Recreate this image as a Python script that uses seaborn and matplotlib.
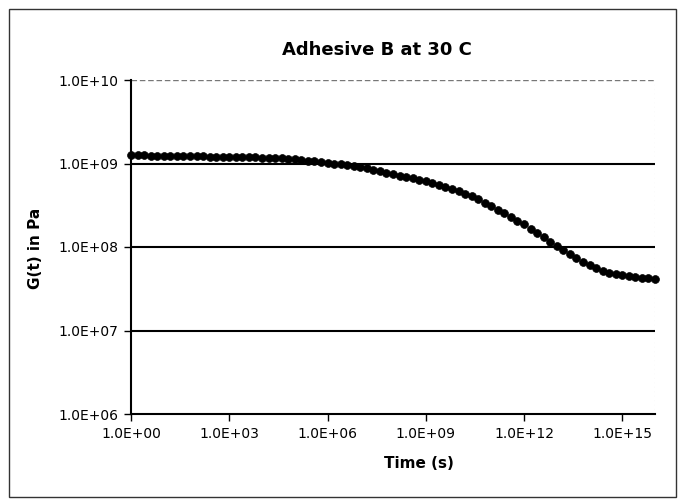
import numpy as np
import pandas as pd
import matplotlib
matplotlib.use("Agg")
import matplotlib.pyplot as plt
import matplotlib.ticker as mticker
import seaborn as sns

title = "Adhesive B at 30 C"
x_label = "Time (s)"
y_label = "G(t) in Pa"

# log10 of time (s) for each plotted point
time_exp = [0.0, 0.2, 0.4, 0.6, 0.8, 1.0, 1.2, 1.4, 1.6, 1.8,
            2.0, 2.2, 2.4, 2.6, 2.8, 3.0, 3.2, 3.4, 3.6, 3.8,
            4.0, 4.2, 4.4, 4.6, 4.8, 5.0, 5.2, 5.4, 5.6, 5.8,
            6.0, 6.2, 6.4, 6.6, 6.8, 7.0, 7.2, 7.4, 7.6, 7.8,
            8.0, 8.2, 8.4, 8.6, 8.8, 9.0, 9.2, 9.4, 9.6, 9.8,
            10.0, 10.2, 10.4, 10.6, 10.8, 11.0, 11.2, 11.4, 11.6, 11.8,
            12.0, 12.2, 12.4, 12.6, 12.8, 13.0, 13.2, 13.4, 13.6, 13.8,
            14.0, 14.2, 14.4, 14.6, 14.8, 15.0, 15.2, 15.4, 15.6, 15.8,
            16.0]

# relaxation modulus, in MPa
modulus_mpa = [1259, 1253, 1247, 1242, 1236, 1230, 1227, 1225, 1222, 1219,
               1216, 1213, 1211, 1208, 1205, 1202, 1197, 1191, 1186, 1180,
               1175, 1167, 1159, 1148, 1135, 1122, 1104, 1086, 1067, 1045,
               1023, 1000, 977, 955, 933, 908, 875, 841, 807, 774,
               741, 716, 692, 665, 640, 614, 585, 556, 527, 498,
               468, 436, 404, 372, 341, 310, 281, 254, 229, 207,
               186, 166, 147, 130, 115, 102, 91.2, 81.7, 73.5, 66.4,
               60.3, 55.6, 52.0, 49.3, 47.3, 45.9, 44.7, 43.7, 42.9, 42.3,
               41.7]

x_ticks = [1e0, 1e3, 1e6, 1e9, 1e12, 1e15]
y_ticks = [1e6, 1e7, 1e8, 1e9, 1e10]

df = pd.DataFrame({
    "time": [10.0 ** e for e in time_exp],
    "G": [m * 1e6 for m in modulus_mpa],
})

sns.set_theme(style="white")
plt.rcParams["font.family"] = ["DejaVu Sans"]
plt.rcParams["text.color"] = "black"

W, H = 685, 500
fig = plt.figure(figsize=(W / 100, H / 100), dpi=100)
ax = fig.add_axes([131 / W, 1 - 414 / H, (655 - 131) / W, (414 - 80) / H])

sns.scatterplot(data=df, x="time", y="G", ax=ax, color="black",
                edgecolor="black", s=32, linewidth=0.5, zorder=3, clip_on=False)

ax.set_xscale("log")
ax.set_yscale("log")
ax.set_xlim(1.0, 1e16)
ax.set_ylim(1e6, 1e10)

ax.xaxis.set_major_locator(mticker.FixedLocator(x_ticks))
ax.yaxis.set_major_locator(mticker.FixedLocator(y_ticks))
ax.xaxis.set_minor_locator(mticker.NullLocator())
ax.yaxis.set_minor_locator(mticker.NullLocator())
fmt = mticker.FuncFormatter(lambda v, p: f"{v:.1E}")
ax.xaxis.set_major_formatter(fmt)
ax.yaxis.set_major_formatter(fmt)

for yv in y_ticks[1:4]:
    ax.axhline(yv, color="black", linewidth=1.5, zorder=1)
ax.axhline(y_ticks[-1], color="#777777", linewidth=1.0, linestyle=(0, (4, 2)), zorder=1)

for side in ["top", "right"]:
    ax.spines[side].set_visible(False)
ax.axvline(1e16, color="#bbbbbb", linewidth=0.8, linestyle=(0, (1, 3)), zorder=1)
for side in ["left", "bottom"]:
    ax.spines[side].set_color("black")
    ax.spines[side].set_linewidth(1.5)

ax.tick_params(axis="both", which="major", direction="out", length=5, width=1,
               color="black", labelsize=10, labelcolor="black", pad=4,
               left=True, bottom=True)

ax.set_xlabel("")
ax.set_ylabel("")
fig.text(377 / W, 1 - 50 / H, title, fontsize=13, fontweight="bold",
         ha="center", va="center", color="black")
fig.text(419 / W, 1 - 464 / H, x_label, fontsize=11, fontweight="bold",
         ha="center", va="center", color="black")
fig.text(36 / W, 1 - 248 / H, y_label, fontsize=11, fontweight="bold",
         ha="center", va="center", rotation=90, color="black")

border = plt.Rectangle((9 / W, 3 / H), 667 / W, 488 / H,
                       transform=fig.transFigure, fill=False,
                       edgecolor="#333333", linewidth=1.0)
fig.patches.append(border)

fig.savefig("out.png", dpi=100, facecolor="white")
